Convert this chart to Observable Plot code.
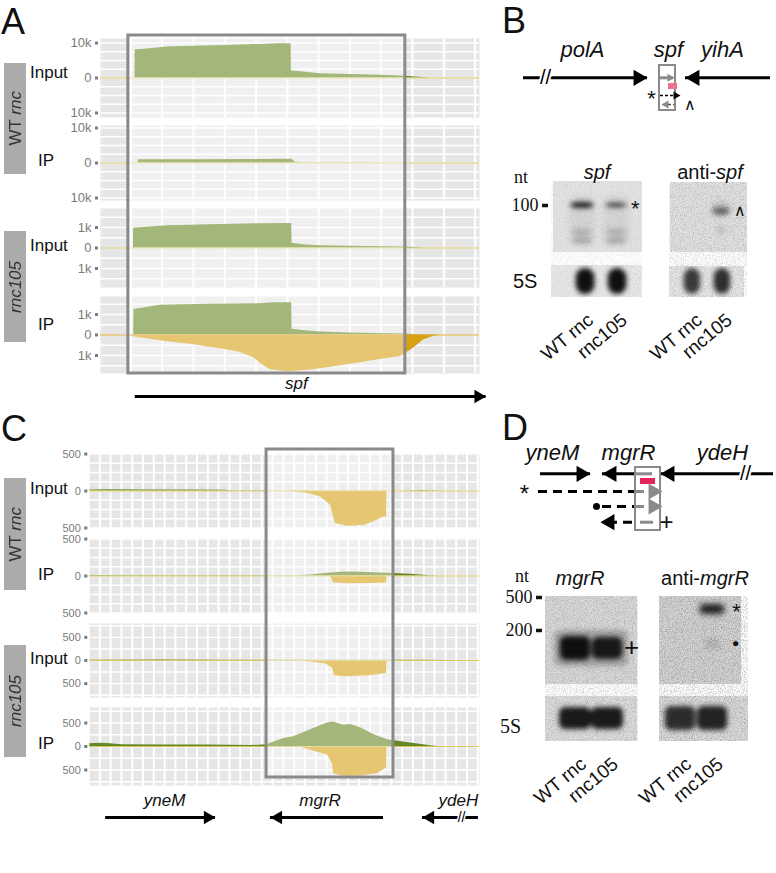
<!DOCTYPE html>
<html><head><meta charset="utf-8">
<script src="https://cdn.jsdelivr.net/npm/d3@7"></script>
<script src="https://cdn.jsdelivr.net/npm/@observablehq/plot@0.6"></script>
<style>
html,body{margin:0;padding:0;background:#fff;}
#fig{position:relative;width:776px;height:873px;overflow:hidden;font-family:"Liberation Sans",Arial,sans-serif;color:#111;}
#fig svg{overflow:visible;}
.t{position:absolute;line-height:0;white-space:nowrap;}
.strip{position:absolute;background:#ababab;display:flex;align-items:center;justify-content:center;}
.strip span{writing-mode:vertical-rl;transform:rotate(180deg);font-size:17px;color:#333;line-height:1;}
</style></head><body><div id="fig"></div>
<script>
// ================= DATA =================
// Panel A (spf locus). x = position in nt within the window, y = read coverage
const aWtInputPos  = [1.3,1.4,6,11.7,20,30,41.4,47,51.2,51.3,55,60.6,70,80,86,92,95.8];
const aWtInputPlus = [0,8000,8400,8900,9100,9300,9600,9800,9800,2000,1700,1250,1000,800,600,250,0];
const aWtIpPos  = [2.3,2.4,20,40,51.5,52.5,56,65,75,85,95];
const aWtIpPlus = [0,900,950,1000,1050,200,100,60,40,20,0];
const aMutInputPos  = [0.8,0.9,11.7,25,41.4,51.4,51.5,56,60.6,75,86,94.7];
const aMutInputPlus = [0,960,1090,1140,1190,1200,230,150,110,70,50,0];
const aMutIpPos  = [0.9,1.0,9.4,25,41.4,45.5,51.4,51.5,55,60.6,70,86,90,96];
const aMutIpPlus = [0,1250,1450,1500,1530,1580,1580,280,220,150,100,50,20,0];
const aMutIpMinusPos = [-0.2,0.8,10.4,19.0,29.6,35.0,39.1,42.0,44.6,50.0,58.3,69.2,79.7,86.1,87.7,90.3,93.5,96.7,99.0];
const aMutIpMinus    = [0,80,300,450,700,850,1100,1450,1700,1800,1700,1450,1200,1050,900,650,250,60,0];
const aTicksBig = [10000,0,-10000];
const aTicksSmall = [1000,0,-1000];
const aBox = [-0.8, 87.7];
const aGeneNames = ["spf"], aGeneStart = [1.4], aGeneEnd = [113.5], aGeneLabel = [52.9];

// Panel C (mgrR locus)
const cWtInputPos  = [-9.3,10,40,80,116,120,170,180,280,300,320];
const cWtInputPlus = [15,18,15,12,10,5,3,0,0,8,0];
const cWtInputMinusPos = [173.8,192.3,204.4,213.6,216.4,218.2,229.4,244.2,253.4,262.7,265.5,265.9];
const cWtInputMinus    = [0,30,80,190,350,440,475,465,420,350,350,0];
const cWtIpPos  = [-9.3,100,181.2,195.1,213.6,227.5,241.4,259.9,271.9,287.7,306.2,315.5];
const cWtIpPlus = [6,5,5,15,40,55,50,40,35,25,5,0];
const cWtIpMinusPos = [213.6,216.4,227.5,250.6,265.5,265.9];
const cWtIpMinus    = [0,90,105,100,95,0];
const cMutInputPos  = [-9.3,60,120,180,300,330];
const cMutInputPlus = [8,10,6,3,5,0];
const cMutInputMinusPos = [176.6,195.1,209.0,215.5,217.3,227.5,250.6,265.5,265.9];
const cMutInputMinus    = [0,30,70,160,330,350,330,280,0];
const cMutIpPos  = [-9.3,0,10,20,60,100,139.5,154.4,170.1,179.4,195.1,210.8,216.4,225.6,232.1,241.4,253.4,266.4,287.7,306.2,312.7];
const cMutIpPlus = [60,70,60,35,30,30,20,35,170,210,355,500,520,450,470,400,255,145,72,15,0];
const cMutIpMinusPos = [185.8,188.6,210.8,215.5,216.4,225.6,241.4,257.1,264.5,265.5,265.9];
const cMutIpMinus    = [0,35,180,360,580,640,630,580,470,450,0];
const cTicks = [500,0,-500];
const cBox = [154.4, 271.9];
const cGeneNames = ["yneM","mgrR","ydeH"], cGeneStart = [5.4,262.7,350.6], cGeneEnd = [107.1,158.0,298.8], cGeneLabel = [60,204,332];

// Northern blots: lanes and bands (lane, migration mm, strength)
const laneNames = ["WT rnc","rnc105"];
const spfBandLane = [1,2,1,2,1,2,1,2], spfBandY = [24,24,51,51,59.5,59.5,40,40], spfBandA = [0.95,0.75,0.2,0.2,0.24,0.24,0.06,0.06];
const spf5SLane = [1.09,2.03], spf5SY = [100,100], spf5SA = [1,1];
const antiSpfBandLane = [2,2,2], antiSpfBandY = [29,27,48], antiSpfBandA = [0.55,0.12,0.12];
const antiSpf5SLane = [1.03,2.03], antiSpf5SY = [99,99], antiSpf5SA = [0.8,0.85];
const mgrBandLane = [1,2,1.5], mgrBandY = [52,52,52], mgrBandA = [1,0.95,0.25];
const mgr5SLane = [1,2], mgr5SY = [122,122], mgr5SA = [0.95,0.95];
const antiMgrBandLane = [2,2,2], antiMgrBandY = [13,13,48], antiMgrBandA = [0.85,0.2,0.12];
const antiMgr5SLane = [1,2], antiMgr5SY = [122,122], antiMgr5SA = [0.85,0.9];

// ================= HELPERS =================
const fig = document.getElementById("fig");
const STYLE = {background:"transparent", overflow:"visible", fontFamily:"'Liberation Sans', Arial, sans-serif"};
const SERIF = "'Liberation Serif','Times New Roman',serif";
const GREEN = "#648821", YELLOW = "#d8a013", BG = "#e6e6e6";
function put(node, left, top){ node.style.position="absolute"; node.style.left=left+"px"; node.style.top=top+"px"; fig.appendChild(node); return node; }
function label(html, x, y, o={}){
  const d=document.createElement("div"); d.className="t"; d.innerHTML=html;
  d.style.fontSize=(o.size||17)+"px";
  if(o.font) d.style.fontFamily=o.font;
  if(o.italic) d.style.fontStyle="italic";
  if(o.color) d.style.color=o.color;
  if(o.anchor==="middle") d.style.transform="translateX(-50%)";
  if(o.anchor==="end") d.style.transform="translateX(-100%)";
  return put(d,x,y);
}
function strip(html, top, h){ const d=document.createElement("div"); d.className="strip"; d.style.width="22px"; d.style.height=h+"px"; d.innerHTML=`<span>${html}</span>`; put(d,4,top); }
const zip = (xs, ys, sign=1) => xs.map((x,i)=>({pos:x, v:sign*ys[i]}));
function heads(data, r){
  return [
    Plot.dot(data.filter(d=>d.dir>0), {x:"x", y:"y", symbol:"triangle", r, rotate:90, fill:d=>d.c||"black", dx:-1.55*r}),
    Plot.dot(data.filter(d=>d.dir<0), {x:"x", y:"y", symbol:"triangle", r, rotate:-90, fill:d=>d.c||"black", dx:1.55*r})
  ];
}
const kfmt = d => d===0 ? "0" : (Math.abs(d)>=1000 ? Math.abs(d)/1000+"k" : String(Math.abs(d)));

function track(t, xs){
  const yt = d3.range(-Math.floor(t.dom/t.step)*t.step, t.dom+1e-9, t.step);
  return Plot.plot({
    width:xs.width, height:t.h, marginLeft:xs.ml, marginRight:xs.mr, marginTop:0, marginBottom:0, style:STYLE,
    x:{domain:xs.domain, axis:null}, y:{domain:[-t.dom,t.dom], axis:null},
    marks:[
      Plot.frame({fill:BG, stroke:null}),
      Plot.ruleY(yt, {stroke:"white", strokeWidth:1.4}),
      Plot.ruleX(xs.grid, {stroke:"white", strokeWidth:2}),
      Plot.areaY(t.plus, {x:"pos", y:"v", fill:GREEN}),
      Plot.areaY(t.minus||[], {x:"pos", y:"v", fill:YELLOW}),
      Plot.ruleY([0], {stroke:t.base||"#d6c560", strokeWidth:1}),
      Plot.axisY(t.ticks, {label:null, tickFormat:kfmt, tickSize:3, tickPadding:4, strokeWidth:3, fontSize:xs.fs, color:"#7a7a7a", dx:-2})
    ]
  });
}
function boxOverlay(xs, box, h){
  return Plot.plot({width:xs.width, height:h, marginLeft:xs.ml, marginRight:xs.mr, marginTop:0, marginBottom:0, style:STYLE,
    x:{domain:xs.domain, axis:null}, y:{domain:[0,1], axis:null},
    marks:[Plot.rect([box], {x1:d=>d[0], x2:d=>d[1], y1:0, y2:1, fill:"white", fillOpacity:0.4, stroke:"#8a8a8a", strokeWidth:3})]});
}
function geneTrack(xs, names, start, end, lab, h, breaks=[]){
  const g = names.map((n,i)=>({name:n, s:start[i], e:end[i], l:lab[i]}));
  return Plot.plot({width:xs.width, height:h, marginLeft:xs.ml, marginRight:xs.mr, marginTop:0, marginBottom:0, style:STYLE,
    x:{domain:xs.domain, axis:null}, y:{domain:[0,1], axis:null},
    marks:[
      Plot.ruleY(g, {x1:"s", x2:"e", y:0, stroke:"black", strokeWidth:3}),
      ...heads(g.map(d=>({x:d.e, y:0, dir:Math.sign(d.e-d.s)})), 5),
      Plot.text(breaks, {x:d=>d, y:0, text:()=>"//", fontSize:14, stroke:"white", strokeWidth:3, paintOrder:"stroke", fill:"black"}),
      Plot.text(g, {x:"l", y:1, text:"name", fontStyle:"italic", fontSize:17})
    ]});
}

// ================= PANEL A =================
const xsA = {width:500, ml:100, mr:21, fs:13, domain:[-9.7,111.4], grid:d3.range(0,111,10)};
const tracksA = [
  {top:38, h:79, dom:11300, step:2500, ticks:aTicksBig, plus:zip(aWtInputPos,aWtInputPlus)},
  {top:125, h:75, dom:10700, step:2500, ticks:aTicksBig, plus:zip(aWtIpPos,aWtIpPlus)},
  {top:208, h:79, dom:1930, step:500, ticks:aTicksSmall, plus:zip(aMutInputPos,aMutInputPlus)},
  {top:296, h:77, dom:1880, step:500, ticks:aTicksSmall, plus:zip(aMutIpPos,aMutIpPlus), minus:zip(aMutIpMinusPos,aMutIpMinus,-1), base:"#d9a52a"}
];
tracksA.forEach(t=>put(track(t,xsA),0,t.top));
put(boxOverlay(xsA, aBox, 338), 0, 35);
put(geneTrack(xsA, aGeneNames, aGeneStart, aGeneEnd, aGeneLabel, 13), 0, 383);

// ================= PANEL C =================
const xsC = {width:500, ml:89.3, mr:21, fs:11, domain:[-9.3,351.6], grid:d3.range(0,351,10)};
const tracksC = [
  {top:453, h:75, dom:507, step:125, ticks:cTicks, plus:zip(cWtInputPos,cWtInputPlus), minus:zip(cWtInputMinusPos,cWtInputMinus,-1)},
  {top:538, h:75, dom:507, step:125, ticks:cTicks, plus:zip(cWtIpPos,cWtIpPlus), minus:zip(cWtIpMinusPos,cWtIpMinus,-1)},
  {top:623, h:74, dom:800, step:250, ticks:cTicks, plus:zip(cMutInputPos,cMutInputPlus), minus:zip(cMutInputMinusPos,cMutInputMinus,-1)},
  {top:707, h:78, dom:830, step:250, ticks:cTicks, plus:zip(cMutIpPos,cMutIpPlus), minus:zip(cMutIpMinusPos,cMutIpMinus,-1)}
];
tracksC.forEach(t=>put(track(t,xsC),0,t.top));
put(boxOverlay(xsC, cBox, 328), 0, 449);
put(geneTrack(xsC, cGeneNames, cGeneStart, cGeneEnd, cGeneLabel, 17, [335]), 0, 800);

// row labels
label("A",1,22,{size:36}); label("C",1,429,{size:36});
label("B",502,21,{size:36}); label("D",502,428,{size:36});
strip("WT <i>rnc</i>",63,111); strip("<i>rnc105</i>",231,111);
strip("WT <i>rnc</i>",478,112); strip("<i>rnc105</i>",645,112);
label("Input",30,73); label("IP",38,161); label("Input",30,246); label("IP",38,325);
label("Input",30,489); label("IP",38,575); label("Input",30,659); label("IP",38,744);

// ================= SCHEMATICS (B, D) =================
function schematic(s){
  return Plot.plot({width:s.w, height:s.h, margin:0, style:STYLE,
    x:{domain:[0,s.w], axis:null}, y:{domain:[0,s.h], reverse:true, axis:null},
    marks:[
      Plot.ruleY(s.solid, {x1:"x1", x2:"x2", y:"y", stroke:d=>d.c||"black", strokeWidth:3}),
      Plot.ruleY(s.dashed||[], {x1:"x1", x2:"x2", y:"y", stroke:d=>d.c||"black", strokeWidth:3, strokeDasharray:"9,6"}),
      Plot.ruleY(s.thin||[], {x1:"x1", x2:"x2", y:"y", stroke:d=>d.c||"black", strokeWidth:1.5, strokeDasharray:"3,2"}),
      Plot.rect(s.rects, {x1:"x1", x2:"x2", y1:"y1", y2:"y2", fill:d=>d.fill||"none", stroke:d=>d.stroke||"none", strokeWidth:2}),
      ...heads(s.heads, s.r),
      ...heads(s.smallHeads||[], 3),
      Plot.dot(s.dots||[], {x:"x", y:"y", r:3.5, fill:"black"}),
      Plot.text(s.breaks||[], {x:"x", y:"y", text:()=>"//", fontSize:20, stroke:"white", strokeWidth:4, paintOrder:"stroke", fill:"black"}),
      Plot.text(s.names, {x:"x", y:"y", text:"t", fontStyle:"italic", fontSize:s.fs}),
      Plot.text(s.marks, {x:"x", y:"y", text:"t", fontSize:d=>d.size, fontFamily:d=>d.font})
    ]});
}
put(schematic({w:276, h:100, fs:22, r:6,
  solid:[{x1:23,x2:147,y:57.3},{x1:270,x2:185,y:57.3},{x1:159,x2:173,y:57.3,c:"#8a8a8a"}],
  thin:[{x1:160,x2:177,y:75},{x1:176,x2:163,y:84,c:"#444"}],
  rects:[{x1:159,x2:175,y1:45,y2:90,stroke:"#8a8a8a"},{x1:168,x2:177,y1:63,y2:69,fill:"#f0708f"}],
  heads:[{x:147,y:57.3,dir:1},{x:185,y:57.3,dir:-1}],
  smallHeads:[{x:174,y:57.3,dir:1,c:"#8a8a8a"},{x:180,y:75,dir:1},{x:161,y:84,dir:-1,c:"#8a8a8a"}],
  breaks:[{x:45,y:57.3}],
  names:[{x:82,y:29,t:"polA"},{x:168,y:29,t:"spf"},{x:222,y:29,t:"yihA"}],
  marks:[{x:151,y:78,t:"*",size:22,font:SERIF},{x:189,y:84,t:"∧",size:16,font:"DejaVu Sans"}]
}), 500, 20);
put(schematic({w:276, h:110, fs:22, r:6,
  solid:[{x1:40,x2:90,y:43.3},{x1:135,x2:102,y:43.3},{x1:152,x2:135,y:43.3,c:"#8a8a8a"},{x1:273,x2:160,y:43.3},{x1:153,x2:140,y:91.7,c:"#8a8a8a"}],
  dashed:[{x1:38,x2:135,y:61},{x1:135,x2:153,y:61,c:"#8a8a8a"},{x1:102,x2:135,y:76},{x1:135,x2:153,y:76,c:"#8a8a8a"},{x1:132,x2:104,y:91.7}],
  rects:[{x1:135,x2:160,y1:37,y2:100,stroke:"#8a8a8a"},{x1:140,x2:155,y1:48,y2:54,fill:"#e3245c"}],
  heads:[{x:90,y:43.3,dir:1},{x:102,y:43.3,dir:-1},{x:160,y:43.3,dir:-1},{x:162,y:61,dir:1,c:"#8a8a8a"},{x:162,y:76,dir:1,c:"#8a8a8a"},{x:100,y:91.7,dir:-1}],
  dots:[{x:96,y:76}],
  breaks:[{x:245,y:43.3}],
  names:[{x:52,y:22,t:"yneM"},{x:128,y:22,t:"mgrR"},{x:222,y:22,t:"ydeH"}],
  marks:[{x:24,y:64,t:"*",size:24,font:SERIF},{x:166,y:91.7,t:"+",size:24,font:"Liberation Sans"}]
}), 500, 430);

// ================= GELS =================
let gelId = 0;
function bands(lane, y, a, w, h){ return lane.map((l,i)=>({lane:l, y:y[i], a:a[i], w:w[i]??w, h:h[i]??h})); }
function gel(g){
  const id = "g"+(gelId++);
  const xw = (g.dom[1]-g.dom[0])*g.unit;
  const width = g.ml + xw + g.mr, height = g.H + g.mb;
  const bandMark = data => Plot.rect(data, {x1:d=>d.lane-d.w/2, x2:d=>d.lane+d.w/2, y1:d=>d.y-d.h/2, y2:d=>d.y+d.h/2, fill:"#111", fillOpacity:d=>d.a, rx:g.rx||6});
  const ylab = new Map((g.markers||[]).map(m=>[m.y,m.t]));
  const svg = Plot.plot({width, height, marginLeft:g.ml, marginRight:g.mr, marginTop:0, marginBottom:g.mb, style:STYLE,
    x:{domain:g.dom, axis:null}, y:{domain:[0,g.H], reverse:true, axis:null},
    marks:[
      Plot.rect(g.blots, {x1:"x1", x2:"x2", y1:"y1", y2:"y2", fill:"fill"}),
      bandMark(g.probe), bandMark(g.s5),
      Plot.rect(g.blots, {x1:"x1", x2:"x2", y1:"y1", y2:"y2", fill:"black"}),
      Plot.text(g.notes||[], {x:"x", y:"y", text:"t", fontSize:d=>d.size, fontFamily:d=>d.font}),
      g.markers ? Plot.axisY([...ylab.keys()], {anchor:"left", label:null, tickFormat:d=>ylab.get(d), tickSize:6, tickPadding:4, strokeWidth:3.5, fontSize:18, fontFamily:SERIF, color:"#111", dx:-3}) : null,
      Plot.axisX([1,2], {label:null, tickFormat:d=>laneNames[d-1], tickRotate:-40, tickSize:0, tickPadding:g.pad||20, fontSize:19, color:"#111", dx:8})
    ]});
  const sx = svg.scale("x"), sy = svg.scale("y");
  const root = d3.select(svg);
  const defs = root.insert("defs", ":first-child");
  const f = defs.append("filter").attr("id",id+"n").attr("x",0).attr("y",0).attr("width",1).attr("height",1);
  f.append("feTurbulence").attr("type","fractalNoise").attr("baseFrequency",1.1).attr("numOctaves",2).attr("seed",gelId*7);
  f.append("feColorMatrix").attr("type","matrix").attr("values","0 0 0 0 0  0 0 0 0 0  0 0 0 0 0  0.6 0 0 0 -0.24");
  g.blots.forEach((b,i)=>{
    defs.append("clipPath").attr("id",id+"c"+i).append("rect")
      .attr("x",sx.apply(b.x1)).attr("width",sx.apply(b.x2)-sx.apply(b.x1))
      .attr("y",sy.apply(b.y1)).attr("height",sy.apply(b.y2)-sy.apply(b.y1));
  });
  const rects = svg.querySelectorAll(':scope > g[aria-label="rect"]');
  [rects[1], rects[2]].forEach((el,i)=>{ el.style.filter=`blur(${g.blur}px)`; el.setAttribute("clip-path",`url(#${id}c${i})`); });
  rects[3].setAttribute("filter",`url(#${id}n)`); rects[3].style.opacity = g.grain;
  return svg;
}
// B: spf probe
put(gel({dom:[0.088,2.76], unit:34, ml:45, mr:22, H:116, mb:90, blur:2.4, grain:0.35, rx:9,
  blots:[{x1:0.147,x2:2.76,y1:0,y2:71,fill:"#e4e4e4"},{x1:0.088,x2:2.76,y1:84,y2:116,fill:"#e8e8e8"}],
  probe:bands(spfBandLane, spfBandY, spfBandA, [0.7,0.62,0.6,0.6,0.6,0.6,0.8,0.8], [6,5,6,6,6,6,50,50]),
  s5:bands(spf5SLane, spf5SY, spf5SA, 0.55, 26),
  markers:[{y:24,t:"100"}],
  notes:[{x:2.55,y:27,t:"*",size:22,font:SERIF}]
}), 506, 181);
// B: anti-spf probe
put(gel({dom:[0.267,2.867], unit:30, ml:0, mr:10, H:115, mb:90, blur:2.4, grain:0.7, rx:9,
  blots:[{x1:0.3,x2:2.867,y1:0,y2:70,fill:"#e2e2e2"},{x1:0.267,x2:2.767,y1:84,y2:115,fill:"#e8e8e8"}],
  probe:bands(antiSpfBandLane, antiSpfBandY, antiSpfBandA, [0.6,0.65,0.35], [7,16,8]),
  s5:bands(antiSpf5SLane, antiSpf5SY, antiSpf5SA, 0.55, 26),
  notes:[{x:2.63,y:28,t:"∧",size:16,font:"DejaVu Sans"}]
}), 669, 182);
// D: mgrR probe
put(gel({dom:[0.0625,2.94], unit:32, ml:45, mr:15, H:145, mb:70, blur:2.8, grain:0.8,
  blots:[{x1:0.0625,x2:2.94,y1:0,y2:88,fill:"#dadada"},{x1:0.0625,x2:2.94,y1:100,y2:145,fill:"#dedede"}],
  probe:bands(mgrBandLane, mgrBandY, mgrBandA, [0.95,0.95,2.3], [24,22,36]),
  s5:bands(mgr5SLane, mgr5SY, mgr5SA, 1.0, 22),
  markers:[{y:1,t:"500"},{y:34,t:"200"}],
  notes:[{x:2.75,y:51,t:"+",size:26,font:SERIF}]
}), 500, 596);
// D: anti-mgrR probe
put(gel({dom:[0.344,3.125], unit:32, ml:0, mr:10, H:145, mb:70, blur:2.8, grain:1,
  blots:[{x1:0.344,x2:2.906,y1:0,y2:88,fill:"#d4d4d4"},{x1:0.344,x2:3.125,y1:100,y2:145,fill:"#dcdcdc"}],
  probe:bands(antiMgrBandLane, antiMgrBandY, antiMgrBandA, [0.75,0.9,0.5], [9,16,12]),
  s5:bands(antiMgr5SLane, antiMgr5SY, antiMgr5SA, 0.95, 24),
  notes:[{x:2.75,y:15,t:"*",size:22,font:SERIF},{x:2.72,y:47,t:"●",size:12,font:"DejaVu Sans"}]
}), 659, 596);

// gel titles
label("nt",514,177,{size:18,font:SERIF});
label("<i>spf</i>",597,172,{size:20,anchor:"middle"});
label("anti-<i>spf</i>",710,172,{size:20,anchor:"middle"});
label("5S",513,281,{size:20});
label("nt",515,576,{size:18,font:SERIF});
label("<i>mgrR</i>",580,578,{size:20,anchor:"middle"});
label("anti-<i>mgrR</i>",705,578,{size:20,anchor:"middle"});
label("5S",500,726,{size:20,font:SERIF});
</script></body></html>
